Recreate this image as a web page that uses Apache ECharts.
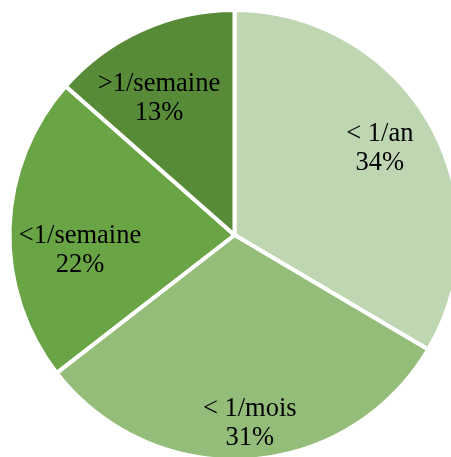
<!DOCTYPE html>
<html>
<head>
<meta charset="utf-8">
<script src="https://cdn.jsdelivr.net/npm/echarts@6/dist/echarts.min.js"></script>
<style>
  html, body { margin: 0; padding: 0; background: #fff; }
  #chart { width: 451px; height: 457px; }
</style>
</head>
<body>
<div id="chart"></div>
<script>
// categories, clockwise from 12 o'clock
const categories = ['< 1/an', '< 1/mois', '<1/semaine', '>1/semaine']
// slice sizes
const values = [33.5, 31, 22, 13.5]
// percentages printed in the labels
const pctLabels = [34, 31, 22, 13]
const colors = ['#bfd6b3', '#95bd7a', '#69a445', '#578b38']
// label nudges away from the default inside position
const labelOffsets = [[45, -29], [8, 73], [-39, 19], [-28, -31]]

const chart = echarts.init(document.getElementById('chart'))

const data = categories.map((name, i) => ({
  name: name,
  value: values[i],
  itemStyle: { color: colors[i] },
  label: { offset: labelOffsets[i] }
}))

chart.setOption({
  animation: false,
  series: [
    {
      type: 'pie',
      center: [234.5, 235],
      radius: 225,
      startAngle: 90,
      clockwise: true,
      data: data,
      itemStyle: {
        borderColor: '#fff',
        borderWidth: 4
      },
      label: {
        show: true,
        position: 'inside',
        formatter: p => p.name + '\n' + pctLabels[p.dataIndex] + '%',
        color: '#000',
        fontFamily: 'Liberation Serif',
        fontSize: 26.5,
        lineHeight: 29,
        align: 'center'
      },
      labelLine: { show: false },
      emphasis: { disabled: true }
    }
  ]
})
</script>
</body>
</html>
